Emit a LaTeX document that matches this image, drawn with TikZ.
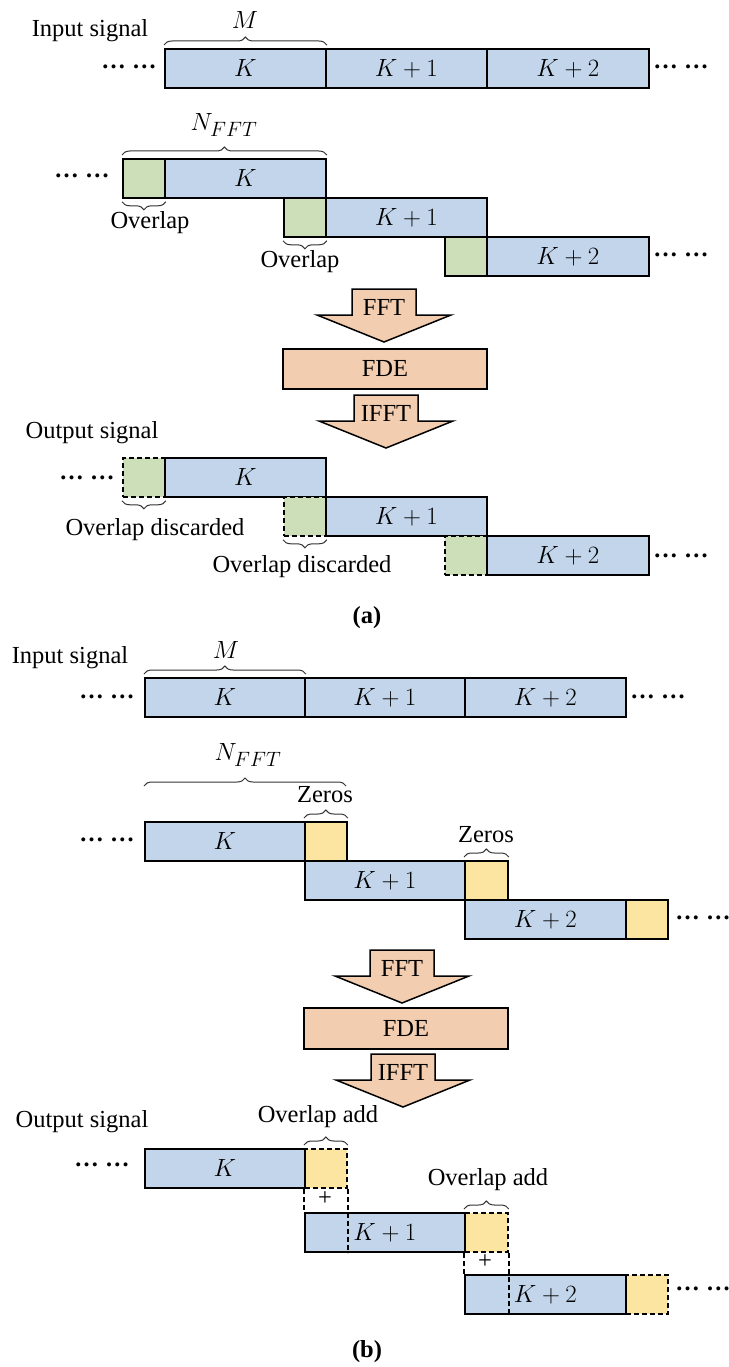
\documentclass[tikz,border=0pt]{standalone}
\usepackage{fontspec}
\setmainfont{Liberation Serif}
\usetikzlibrary{decorations.pathreplacing}

\definecolor{segblue}{HTML}{C2D5EB}
\definecolor{seggreen}{HTML}{CDDFB9}
\definecolor{segyellow}{HTML}{FBE5A0}
\definecolor{peachfill}{HTML}{F2CDB0}

\tikzset{
  lbl/.style={font=\fontsize{24.5}{29}\selectfont, inner sep=0pt},
  dotlbl/.style={font=\fontsize{24.5}{29}\selectfont\bfseries, inner sep=0pt},
  seg/.style={draw=black, line width=1.8pt, minimum height=39pt, inner sep=0pt,
              anchor=north west, font=\fontsize{24.88}{29}\selectfont},
  blueseg/.style={seg, fill=segblue},
  greenseg/.style={seg, fill=seggreen},
  yellowseg/.style={seg, fill=segyellow},
  dashseg/.style={dash pattern=on 5pt off 3pt},
  brcup/.style={decorate, decoration={brace, amplitude=8pt}, line width=1pt, draw=black!80},
  brcdown/.style={decorate, decoration={brace, amplitude=8pt, mirror}, line width=1pt, draw=black!80},
  peach/.style={fill=peachfill, draw=black, line width=1.5pt, line join=miter},
  fdebox/.style={draw=black, fill=peachfill, line width=1.8pt, minimum width=204pt,
                 anchor=north west, font=\fontsize{24.5}{29}\selectfont, inner sep=0pt},
  dashlink/.style={draw=black, line width=1.6pt, dash pattern=on 5pt off 3pt},
  mathlbl/.style={font=\fontsize{24.88}{29}\selectfont, inner sep=0pt},
}

% block arrow pointing down: name, centre x, top y, caption
\newcommand{\downarrowblock}[4]{%
  \draw[peach] (#2-32,#3) -- (#2+32,#3) -- (#2+32,#3+26) -- (#2+67,#3+26)
    -- (#2,#3+53) -- (#2-67,#3+26) -- (#2-32,#3+26) -- cycle;
  \node[lbl] (#1) at (#2,#3+18) {#4};}

\begin{document}
\begin{tikzpicture}[x=1pt,y=-1pt]
\useasboundingbox[fill=white] (0,0) rectangle (728,1367);

% ================= (a) overlap-save =================
\node[lbl] (inA) at (90,31) {Input signal};
\node[blueseg, minimum width=161pt] (ia1) at (164,48) {$K$};
\node[blueseg, minimum width=161pt] (ia2) at (325,48) {$K+1$};
\node[blueseg, minimum width=162pt] (ia3) at (486,48) {$K+2$};
\node[dotlbl] (iaL) at (129,67) {… …};
\node[dotlbl] (iaR) at (681,67) {… …};
\draw[brcup] ([yshift=3pt]ia1.north west) -- ([yshift=3pt]ia1.north east);
\node[mathlbl] (mA) at (245,20) {$M$};

% blocks with overlap
\node[greenseg, minimum width=42pt] (ga1) at (122,158) {};
\node[blueseg, minimum width=161pt] (ba1) at (164,158) {$K$};
\node[greenseg, minimum width=42pt] (ga2) at (283,197) {};
\node[blueseg, minimum width=161pt] (ba2) at (325,197) {$K+1$};
\node[greenseg, minimum width=42pt] (ga3) at (444,236) {};
\node[blueseg, minimum width=162pt] (ba3) at (486,236) {$K+2$};
\node[dotlbl] (baL) at (82,176) {… …};
\node[dotlbl] (baR) at (681,255) {… …};
\draw[brcup] ([yshift=3pt]ga1.north west) -- ([yshift=3pt]ba1.north east);
\node[mathlbl] (nA) at (224,125) {$N_{FFT}$};
\draw[brcdown] ([yshift=-3pt]ga1.south west) -- ([yshift=-3pt]ga1.south east);
\node[lbl] (ovA1) at (150,223) {Overlap};
\draw[brcdown] ([yshift=-3pt]ga2.south west) -- ([yshift=-3pt]ga2.south east);
\node[lbl] (ovA2) at (300,262) {Overlap};

% processing chain
\downarrowblock{fftA}{384}{289}{FFT}
\node[fdebox, minimum height=40pt] (fdeA) at (282,348) {FDE};
\downarrowblock{ifftA}{386}{395}{IFFT}

% output blocks, overlap discarded
\node[lbl] (outA) at (92,433) {Output signal};
\node[greenseg, dashseg, minimum width=42pt] (oga1) at (122,457) {};
\node[blueseg, minimum width=161pt] (oba1) at (164,457) {$K$};
\node[greenseg, dashseg, minimum width=42pt] (oga2) at (283,496) {};
\node[blueseg, minimum width=161pt] (oba2) at (325,496) {$K+1$};
\node[greenseg, dashseg, minimum width=42pt] (oga3) at (444,535) {};
\node[blueseg, minimum width=162pt] (oba3) at (486,535) {$K+2$};
\node[dotlbl] (obaL) at (87,478) {… …};
\node[dotlbl] (obaR) at (681,556) {… …};
\draw[brcdown] ([yshift=-3pt]oga1.south west) -- ([yshift=-3pt]oga1.south east);
\node[lbl] (dcA1) at (155,530) {Overlap discarded};
\draw[brcdown] ([yshift=-3pt]oga2.south west) -- ([yshift=-3pt]oga2.south east);
\node[lbl] (dcA2) at (302,567) {Overlap discarded};

\node[lbl, font=\fontsize{24.5}{29}\selectfont\bfseries] (capA) at (367,618) {(a)};

% ================= (b) overlap-add =================
\node[lbl] (inB) at (70,658) {Input signal};
\node[blueseg, minimum width=160pt] (ib1) at (144,677) {$K$};
\node[blueseg, minimum width=160pt] (ib2) at (304,677) {$K+1$};
\node[blueseg, minimum width=161pt] (ib3) at (464,677) {$K+2$};
\node[dotlbl] (ibL) at (107,697) {… …};
\node[dotlbl] (ibR) at (658,697) {… …};
\draw[brcup] ([yshift=3pt]ib1.north west) -- ([yshift=3pt]ib1.north east);
\node[mathlbl] (mB) at (226,650) {$M$};

% zero-padded blocks
\node[blueseg, minimum width=160pt] (bb1) at (144,821) {$K$};
\node[yellowseg, minimum width=42pt] (yb1) at (304,821) {};
\node[blueseg, minimum width=160pt] (bb2) at (304,860) {$K+1$};
\node[yellowseg, minimum width=43pt] (yb2) at (464,860) {};
\node[blueseg, minimum width=161pt] (bb3) at (464,899) {$K+2$};
\node[yellowseg, minimum width=42pt] (yb3) at (625,899) {};
\node[dotlbl] (bbL) at (107,840) {… …};
\node[dotlbl] (bbR) at (703,918) {… …};
\coordinate (nbL) at (144,786);
\coordinate (nbR) at (346,786);
\draw[brcup] (nbL) -- (nbR);
\node[mathlbl] (nB) at (248,755) {$N_{FFT}$};
\draw[brcup] ([yshift=3pt]yb1.north west) -- ([yshift=3pt]yb1.north east);
\node[lbl] (zB1) at (325,795) {Zeros};
\draw[brcup] ([yshift=3pt]yb2.north west) -- ([yshift=3pt]yb2.north east);
\node[lbl] (zB2) at (486,835) {Zeros};

% processing chain
\downarrowblock{fftB}{402}{950}{FFT}
\node[fdebox, minimum height=41pt] (fdeB) at (303,1007) {FDE};
\downarrowblock{ifftB}{403}{1054}{IFFT}

% output blocks, overlap add
\node[lbl] (outB) at (82,1122) {Output signal};
\node[yellowseg, dashseg, minimum width=42pt] (oyb1) at (304,1148) {};
\node[blueseg, minimum width=160pt] (obb1) at (144,1148) {$K$};
\node[yellowseg, dashseg, minimum width=43pt] (oyb2) at (464,1212) {};
\node[blueseg, minimum width=160pt] (obb2) at (304,1212) {$K+1$};
\node[yellowseg, dashseg, minimum width=42pt] (oyb3) at (625,1274) {};
\node[blueseg, minimum width=161pt] (obb3) at (464,1274) {$K+2$};
\node[dotlbl] (obbL) at (102,1165) {… …};
\node[dotlbl] (obbR) at (703,1289) {… …};

\draw[dashlink] (oyb1.south west) -- (obb2.north west);
\draw[dashlink] (oyb1.south east) -- (oyb1.south east |- obb2.south);
\node[lbl] (plusB1) at (325,1199) {+};
\draw[dashlink] (oyb2.south west) -- (obb3.north west);
\draw[dashlink] (oyb2.south east) -- (oyb2.south east |- obb3.south);
\node[lbl] (plusB2) at (485,1262) {+};

\draw[brcup] ([yshift=3pt]oyb1.north west) -- ([yshift=3pt]oyb1.north east);
\node[lbl] (oaB1) at (318,1117) {Overlap add};
\draw[brcup] ([yshift=3pt]oyb2.north west) -- ([yshift=3pt]oyb2.north east);
\node[lbl] (oaB2) at (488,1180) {Overlap add};

\node[lbl, font=\fontsize{24.5}{29}\selectfont\bfseries] (capB) at (367,1352) {(b)};
\end{tikzpicture}
\end{document}
